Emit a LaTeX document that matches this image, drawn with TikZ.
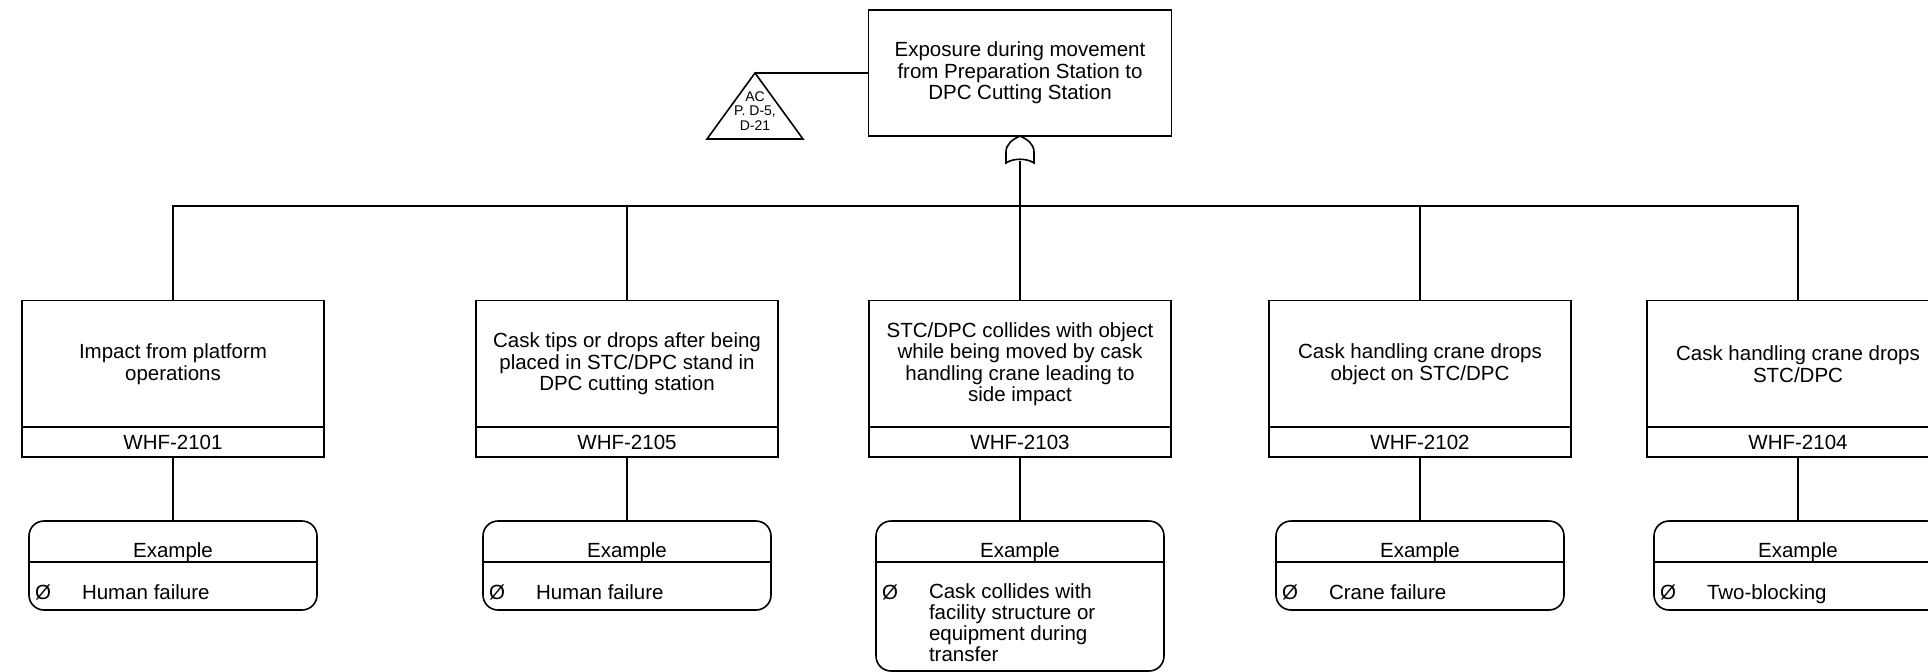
\documentclass[tikz,border=0pt]{standalone}
\usepackage{fontspec}
\setmainfont{Liberation Sans}
\begin{document}
\begin{tikzpicture}[x=1pt,y=-1pt,
  every node/.style={inner sep=0pt, outer sep=0pt},
  ln/.style={line width=1.6pt, line join=miter},
  txt/.style={font=\fontsize{20.5}{21.5}\selectfont, align=center},
  smalltxt/.style={font=\fontsize{14}{14.5}\selectfont, align=center},
  topbox/.style={draw, ln, txt, minimum width=303pt, minimum height=126pt},
  eventbox/.style={draw, ln, txt, minimum width=302pt, minimum height=127pt},
  idbox/.style={draw, ln, txt, minimum width=302pt, minimum height=30pt},
  exhead/.style={txt, anchor=base},
  exframe/.style={draw, ln, rounded corners=15pt, minimum width=288pt},
  bodytxt/.style={font=\fontsize{20.5}{21}\selectfont, align=left},
  divider/.style={ln},
]
\useasboundingbox (0,0) rectangle (1928,672);
\fill[white] (0,0) rectangle (1928,672);
\clip (0,0) rectangle (1928,672);

% top event
\node[topbox] (top) at (1020,73) {Exposure during movement\\from Preparation Station to\\DPC Cutting Station};

% transfer triangle with its reference
\coordinate (apex) at (755,73);
\coordinate (tl) at (707,139);
\coordinate (tr) at (803,139);
\draw[ln, line join=miter] (apex) -- (tr) -- (tl) -- cycle;
\node[smalltxt] (ref) at (755,111) {AC\\P. D-5,\\D-21};
\draw[ln] (apex) -- (top.west);

% OR gate under the top event
\coordinate (gin) at (1020,161);
\draw[ln, fill=white] (1006,163) -- (1006,152)
  .. controls (1006,144) and (1013,139) .. (top.south)
  .. controls (1027,139) and (1034,144) .. (1034,152)
  -- (1034,163) .. controls (1027,158) and (1013,158) .. (1006,163) -- cycle;
\coordinate (bus) at (1020,206);

% contributing events
\node[eventbox] (b1) at (173,364) {Impact from platform\\operations};
\node[idbox] (i1) at (173,442) {WHF-2101};
\node[eventbox] (b2) at (627,364) {Cask tips or drops after being\\placed in STC/DPC stand in\\DPC cutting station};
\node[idbox] (i2) at (627,442) {WHF-2105};
\node[eventbox] (b3) at (1020,364) {STC/DPC collides with object\\while being moved by cask\\handling crane leading to\\side impact};
\node[idbox] (i3) at (1020,442) {WHF-2103};
\node[eventbox] (b4) at (1420,364) {Cask handling crane drops\\object on STC/DPC};
\node[idbox] (i4) at (1420,442) {WHF-2102};
\node[eventbox] (b5) at (1798,364) {Cask handling crane drops\\STC/DPC};
\node[idbox] (i5) at (1798,442) {WHF-2104};

% bus from the gate to each event
\draw[ln] (gin) -- (bus);
\draw[ln] (b1.north) -- (b1.north |- bus) -- (b5.north |- bus) -- (b5.north);
\draw[ln] (b2.north) -- (b2.north |- bus);
\draw[ln] (b3.north) -- (b3.north |- bus);
\draw[ln] (b4.north) -- (b4.north |- bus);

% example boxes
\node[exframe, minimum height=89pt] (e1) at (173,565.5) {};
\node[exhead] (h1) at (173,557) {Example};
\draw[divider] ([yshift=-41pt]e1.north west) -- ([yshift=-41pt]e1.north east);
\node[bodytxt, anchor=base west] (s1) at (35,599) {Ø};
\node[bodytxt, anchor=base west] (t1) at (82,599) {Human failure};

\node[exframe, minimum height=89pt] (e2) at (627,565.5) {};
\node[exhead] (h2) at (627,557) {Example};
\draw[divider] ([yshift=-41pt]e2.north west) -- ([yshift=-41pt]e2.north east);
\node[bodytxt, anchor=base west] (s2) at (489,599) {Ø};
\node[bodytxt, anchor=base west] (t2) at (536,599) {Human failure};

\node[exframe, minimum height=150pt] (e3) at (1020,596) {};
\node[exhead] (h3) at (1020,557) {Example};
\draw[divider] ([yshift=-41pt]e3.north west) -- ([yshift=-41pt]e3.north east);
\node[bodytxt, anchor=base west] (s3) at (882,599) {Ø};
\node[bodytxt, anchor=north west] (t3) at (929,584) {Cask collides with\\facility structure or\\equipment during\\transfer};

\node[exframe, minimum height=89pt] (e4) at (1420,565.5) {};
\node[exhead] (h4) at (1420,557) {Example};
\draw[divider] ([yshift=-41pt]e4.north west) -- ([yshift=-41pt]e4.north east);
\node[bodytxt, anchor=base west] (s4) at (1282,599) {Ø};
\node[bodytxt, anchor=base west] (t4) at (1329,599) {Crane failure};

\node[exframe, minimum height=89pt] (e5) at (1798,565.5) {};
\node[exhead] (h5) at (1798,557) {Example};
\draw[divider] ([yshift=-41pt]e5.north west) -- ([yshift=-41pt]e5.north east);
\node[bodytxt, anchor=base west] (s5) at (1660,599) {Ø};
\node[bodytxt, anchor=base west] (t5) at (1707,599) {Two-blocking};

% links from events to their examples
\draw[ln] (i1.south) -- (e1.north);
\draw[ln] (i2.south) -- (e2.north);
\draw[ln] (i3.south) -- (e3.north);
\draw[ln] (i4.south) -- (e4.north);
\draw[ln] (i5.south) -- (e5.north);
\end{tikzpicture}
\end{document}
